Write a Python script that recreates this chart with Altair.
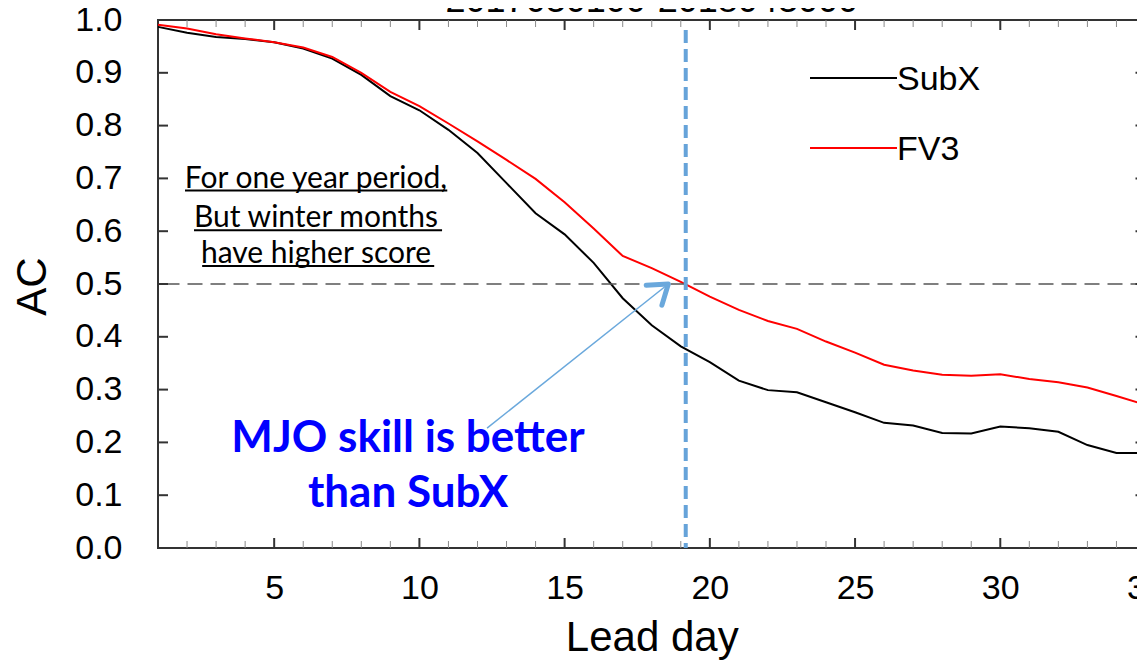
import altair as alt
import pandas as pd

# ---------------- data ----------------
days = list(range(1, 36))
subx = [0.987, 0.976, 0.968, 0.964, 0.958, 0.946, 0.927, 0.896, 0.856, 0.829,
        0.792, 0.748, 0.691, 0.634, 0.594, 0.540, 0.473, 0.422, 0.382, 0.352,
        0.317, 0.299, 0.295, 0.276, 0.257, 0.237, 0.232, 0.218, 0.217, 0.230,
        0.227, 0.220, 0.195, 0.180, 0.180]
fv3 = [0.991, 0.984, 0.973, 0.965, 0.958, 0.948, 0.930, 0.900, 0.864, 0.837,
       0.804, 0.770, 0.735, 0.699, 0.655, 0.605, 0.553, 0.530, 0.504, 0.476,
       0.451, 0.430, 0.415, 0.391, 0.370, 0.347, 0.336, 0.328, 0.326, 0.329,
       0.320, 0.314, 0.304, 0.288, 0.271]
series_names = ["SubX", "FV3"]
series_colors = ["#000000", "#ff0000"]

x_tick_labels = [5, 10, 15, 20, 25, 30, 35]
x_minor_ticks = [2, 3, 4, 6, 7, 8, 9, 11, 12, 13, 14, 16, 17, 18, 19, 21, 22, 23,
                 24, 26, 27, 28, 29, 31, 32, 33, 34]
y_tick_labels = [0.0, 0.1, 0.2, 0.3, 0.4, 0.5, 0.6, 0.7, 0.8, 0.9, 1.0]
y_inner_ticks = [0.1, 0.2, 0.3, 0.4, 0.5, 0.6, 0.7, 0.8, 0.9]

ref_level = [0.5]
skill_day = [19.17]
title_text = "2017030100-2018043000"

note_lines = ["For one year period,", "But winter months", "have higher score"]
note_x = [6.44, 6.44, 6.44]
note_y = [0.682, 0.608, 0.540]
underline_x1 = [1.93, 2.24, 2.52]
underline_x2 = [10.96, 10.78, 10.51]
underline_y = [0.677, 0.602, 0.534]

skill_lines = ["MJO skill is better", "than SubX"]
skill_x = [9.61, 9.61]
skill_y = [0.182, 0.078]

arrow_x = [12.33, 18.57]
arrow_y = [0.227, 0.5]
head_x = [17.81, 18.57, 18.35]
head_y = [0.4975, 0.5, 0.460]

# ---------------- chart ----------------
W, H = 987.5, 528
FONT = "Liberation Sans"
NOTE_FONT = "Lato"

xs = alt.Scale(domain=[1, 35], nice=False, zero=False)
ys = alt.Scale(domain=[0, 1], nice=False, zero=False)
color_scale = alt.Scale(domain=series_names, range=series_colors)

x_axis = alt.Axis(values=x_tick_labels, ticks=False, tickSize=0, domain=False, grid=False,
                  labelFont=FONT, labelFontSize=34, labelColor="black", labelPadding=50,
                  labelBaseline="alphabetic", labelFlush=False, labelOverlap=False,
                  title="Lead day", titleFont=FONT, titleFontSize=42, titleFontWeight="normal",
                  titleColor="black", titleBaseline="alphabetic", titleX=W / 2, titleY=102)
y_axis = alt.Axis(values=y_tick_labels, format=".1f", ticks=False, tickSize=0, domain=False,
                  grid=False, labelFont=FONT, labelFontSize=34, labelColor="black",
                  labelPadding=36, labelOverlap=False, labelFlush=False,
                  title="AC", titleFont=FONT, titleFontSize=42, titleFontWeight="normal",
                  titleColor="black", titleBaseline="alphabetic", titleAngle=270,
                  titleX=-113, titleY=266)


def X(field):
    return alt.X(field, scale=xs, axis=x_axis)


def Y(field):
    return alt.Y(field, scale=ys, axis=y_axis)


lines_df = pd.DataFrame({
    "day": days + days,
    "ac": subx + fv3,
    "series": [series_names[0]] * len(days) + [series_names[1]] * len(days),
})

lines = alt.Chart(lines_df).mark_line(strokeWidth=2).encode(
    x=X("day:Q"),
    y=Y("ac:Q"),
    color=alt.Color("series:N", scale=color_scale, legend=None),
)

ref_rule = alt.Chart(pd.DataFrame({"v": ref_level})).mark_rule(
    color="#555555", strokeWidth=1.5, strokeDash=[15, 8]
).encode(y=Y("v:Q"))

skill_rule = alt.Chart(pd.DataFrame({"d": skill_day})).mark_rule(
    color="#66a3d9", strokeWidth=4, strokeDash=[13, 6]
).encode(x=X("d:Q"), y=alt.value(10), y2=alt.value(H))

arrow_line = alt.Chart(pd.DataFrame({"x": arrow_x, "y": arrow_y, "i": [0, 1]})).mark_line(
    color="#6aa8dc", strokeWidth=1.5
).encode(x=X("x:Q"), y=Y("y:Q"), order="i:O")

arrow_head = alt.Chart(pd.DataFrame({"x": head_x, "y": head_y, "i": [0, 1, 2]})).mark_line(
    color="#6aa8dc", strokeWidth=5, strokeCap="round", strokeJoin="round"
).encode(x=X("x:Q"), y=Y("y:Q"), order="i:O")

note_text = alt.Chart(pd.DataFrame({"x": note_x, "y": note_y, "t": note_lines})).mark_text(
    font=NOTE_FONT, fontSize=30, color="black", align="center", baseline="alphabetic"
).encode(x=X("x:Q"), y=Y("y:Q"), text="t:N")

note_underline = alt.Chart(pd.DataFrame({"x1": underline_x1, "x2": underline_x2, "y": underline_y})).mark_rule(
    color="black", strokeWidth=2
).encode(x=X("x1:Q"), x2="x2:Q", y=Y("y:Q"))

skill_text = alt.Chart(pd.DataFrame({"x": skill_x, "y": skill_y, "t": skill_lines})).mark_text(
    font=NOTE_FONT, fontSize=44, fontWeight="bold", color="#0000ff", align="center",
    baseline="alphabetic"
).encode(x=X("x:Q"), y=Y("y:Q"), text="t:N")

title_mark = alt.Chart(pd.DataFrame({"t": [title_text]})).mark_text(
    font=FONT, fontSize=36, color="black", align="center", baseline="alphabetic"
).encode(x=alt.value(W / 2), y=alt.value(-8), text="t:N")


# inward ticks on the frame
def xticks(vals, y0, y1, color, sw):
    return alt.Chart(pd.DataFrame({"d": vals})).mark_rule(color=color, strokeWidth=sw).encode(
        x=X("d:Q"), y=alt.value(y0), y2=alt.value(y1))


def yticks(vals, x0, x1):
    return alt.Chart(pd.DataFrame({"v": vals})).mark_rule(color="#333333", strokeWidth=2).encode(
        y=Y("v:Q"), x=alt.value(x0), x2=alt.value(x1))


tick_layers = [
    xticks(x_minor_ticks, H, H - 7, "#8a8a8a", 1),
    xticks(x_minor_ticks, 0, 7, "#8a8a8a", 1),
    xticks(x_tick_labels, H, H - 10, "#333333", 2),
    xticks(x_tick_labels, 0, 10, "#333333", 2),
    yticks(y_inner_ticks, 0, 10),
    yticks(y_inner_ticks, W, W - 10),
]

# legend drawn as line + label
legend_layers = []
for i, name in enumerate(series_names):
    ldf = pd.DataFrame({"series": [name]})
    ly = 58 + 70 * i
    legend_layers.append(
        alt.Chart(ldf).mark_rule(strokeWidth=2).encode(
            x=alt.value(652), x2=alt.value(739), y=alt.value(ly),
            color=alt.Color("series:N", scale=color_scale, legend=None)))
    legend_layers.append(
        alt.Chart(ldf).mark_text(font=FONT, fontSize=34, color="black", align="left",
                                 baseline="middle").encode(
            x=alt.value(739), y=alt.value(ly + 2), text="series:N"))

chart = alt.layer(
    lines, ref_rule, skill_rule, arrow_line, arrow_head, note_underline, note_text,
    skill_text, title_mark, *tick_layers, *legend_layers
).properties(
    width=W, height=H,
    padding={"left": 150, "top": 12, "right": -8.5, "bottom": 113},
    autosize=alt.AutoSizeParams(type="none"),
    background="white",
).configure_view(stroke="#333333", strokeWidth=2)

chart.save("out.html", embed_options={"renderer": "svg", "actions": False})
